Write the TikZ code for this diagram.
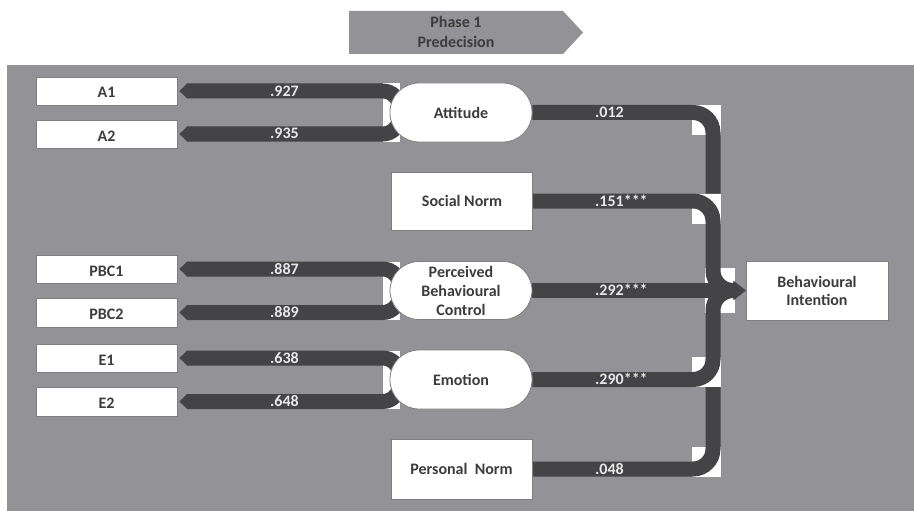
\documentclass[tikz,border=0pt]{standalone}
\usepackage{fontspec}
\setmainfont{Carlito}
\usetikzlibrary{arrows.meta,calc}
\pgfdeclarelayer{back}
\pgfdeclarelayer{patch}
\pgfdeclarelayer{bus}
\pgfsetlayers{back,patch,bus,main}

\definecolor{panelgray}{HTML}{939397}
\definecolor{busdark}{HTML}{444446}
\definecolor{inkgray}{HTML}{3C3C3C}
\definecolor{framegray}{HTML}{7F7F7F}
\definecolor{lblwhite}{HTML}{E8E8E8}

\tikzset{
  txt/.style={font=\fontsize{16}{18}\selectfont\bfseries, text=inkgray},
  item/.style={txt, draw=framegray, line width=0.8pt, fill=white,
    minimum width=141pt, minimum height=28pt, inner sep=0pt},
  indicator/.style={item, text height=14pt, text depth=0pt},
  factor/.style={item, rounded corners=29pt, minimum width=142pt,
    minimum height=59pt, align=center},
  construct/.style={item, minimum height=58pt, align=center},
  bus/.style={draw=busdark, line width=15pt},
  load/.style={bus, rounded corners=17pt, {Triangle[length=8pt,width=15pt]}-},
  link/.style={bus, rounded corners=20pt},
  into/.style={link, -{Triangle[length=12pt,width=18pt]}},
  coef/.style={font=\fontsize{16}{18}\selectfont\bfseries, text=lblwhite,
    anchor=base west, inner sep=0pt},
  cornerpatch/.style={fill=white},
}

\begin{document}
\begin{tikzpicture}[x=1pt,y=-1pt]
\useasboundingbox (0,0) rectangle (914,511);

% phase banner and panel
\begin{pgfonlayer}{back}
  \fill[panelgray] (7,65) rectangle (914,511);
  \fill[panelgray] (349,11) -- (563,11) -- (583,32.5) -- (563,54) -- (349,54) -- cycle;
\end{pgfonlayer}
\node[txt, align=center, font=\fontsize{16}{20}\selectfont\bfseries] (phase) at (456,31.5) {Phase 1\\Predecision};

% indicators
\node[indicator] (a1) at (106.5,91) {A1};
\node[indicator] (a2) at (106.5,134) {A2};
\node[indicator] (pbc1) at (106.5,269) {PBC1};
\node[indicator, minimum height=29pt] (pbc2) at (106.5,312.5) {PBC2};
\node[indicator] (e1) at (106.5,358) {E1};
\node[indicator, minimum height=29pt] (e2) at (106.5,401.5) {E2};

% latent factors
\node[factor] (att) at (461,112.5) {Attitude};
\node[factor, minimum height=58pt, font=\fontsize{16}{19}\selectfont\bfseries] (pbc) at (461,290.5) {Perceived\\Behavioural\\Control};
\node[factor] (emo) at (461,379.5) {Emotion};

% observed constructs and outcome
\node[construct] (sn) at (462,201) {Social Norm};
\node[construct, minimum height=60pt] (pn) at (461.5,469) {Personal\ \ Norm};
\node[construct, minimum width=142pt, minimum height=59pt] (bi) at (817,290.5) {Behavioural\\Intention};

\coordinate (hub) at (713,290.5);
\coordinate (snTop) at (713,193.5);
\coordinate (emBot) at (713,387);

% white backing behind the bends
\begin{pgfonlayer}{patch}
  \fill[cornerpatch] (383,83.5) rectangle (400,141.5);
  \fill[cornerpatch] (383,261.5) rectangle (400,320);
  \fill[cornerpatch] (383,350.5) rectangle (400,409);
  \fill[cornerpatch] (692,105) rectangle (721,134.5);
  \fill[cornerpatch] (692,193.5) rectangle (721,223.5);
  \fill[cornerpatch] (705,268) rectangle (735,313);
  \fill[cornerpatch] (692,357) rectangle (721,387);
  \fill[cornerpatch] (692,447) rectangle (721,476.5);
\end{pgfonlayer}

% connectors
\begin{pgfonlayer}{bus}
  \draw[load] ($(a1.east)+(2,0)$) -| ($(att.west)+(10,0)$);
  \draw[load] ($(a2.east)+(2,0)$) -| ($(att.west)+(10,0)$);
  \draw[load] ($(pbc1.east)+(2,0)$) -| ($(pbc.west)+(10,0)$);
  \draw[load] ($(pbc2.east)+(2,0)$) -| ($(pbc.west)+(10,0)$);
  \draw[load] ($(e1.east)+(2,0)$) -| ($(emo.west)+(10,0)$);
  \draw[load] ($(e2.east)+(2,0)$) -| ($(emo.west)+(10,0)$);

  \draw[link] (att.east) -| (snTop);
  \draw[into] (sn.east) -| (hub) -- (bi.west);
  \draw[into] (pbc.east) -- (bi.west);
  \draw[into] (emo.east) -| (hub) -- (bi.west);
  \draw[link] (pn.east) -| (emBot);
\end{pgfonlayer}

% coefficients
\node[coef] (c927) at (270,96) {.927};
\node[coef] (c935) at (270,139) {.935};
\node[coef] (c887) at (270,274) {.887};
\node[coef] (c889) at (270,317.5) {.889};
\node[coef] (c638) at (270,363) {.638};
\node[coef] (c648) at (270,406.5) {.648};
\node[coef] (c012) at (595,117.5) {.012};
\node[coef] (c151) at (595,206) {.151***};
\node[coef] (c292) at (595,295.5) {.292***};
\node[coef] (c290) at (595,384.5) {.290***};
\node[coef] (c048) at (595,474) {.048};
\end{tikzpicture}
\end{document}
